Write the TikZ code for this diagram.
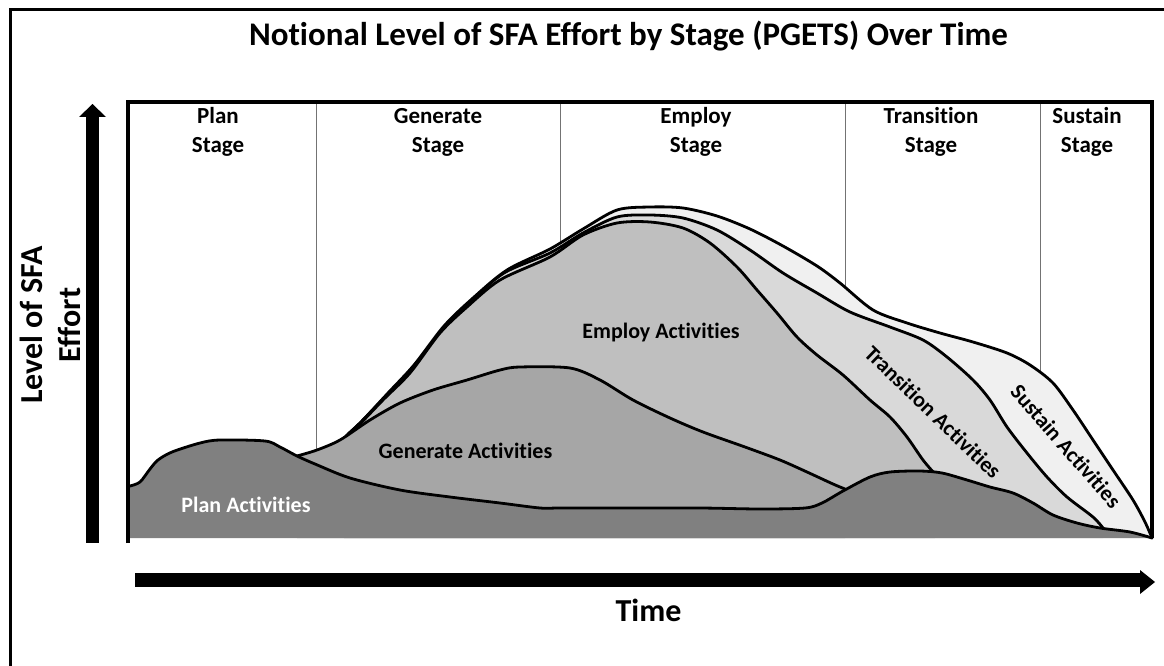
\documentclass[tikz,border=0pt]{standalone}
\usepackage{fontspec}
\setmainfont[Ligatures={NoCommon}]{Carlito}
\definecolor{plancol}{gray}{0.50}
\definecolor{gencol}{gray}{0.65}
\definecolor{empcol}{gray}{0.75}
\definecolor{trancol}{gray}{0.85}
\definecolor{suscol}{gray}{0.94}
\begin{document}
\begin{tikzpicture}[x=1pt,y=-1pt,
  curve/.style={draw=black, line width=2.8pt, line join=round, line cap=round},
  actlbl/.style={font=\bfseries\fontsize{22}{26}\selectfont, inner sep=0pt},
  stagelbl/.style={font=\bfseries\fontsize{23}{28}\selectfont, inner sep=0pt, anchor=base},
  axlbl/.style={font=\bfseries\fontsize{32}{38}\selectfont, inner sep=0pt, anchor=base},
  divider/.style={draw=black!55, line width=1pt},
  boxline/.style={draw=black, line width=3.5pt, line join=miter},
]
\useasboundingbox (0,0) rectangle (1164,666);
\fill[white] (0,0) rectangle (1164,666);
\clip (0,0) rectangle (1164,666);

% outer frame
\draw[line width=3pt] (1180,9.5) -- (10,9.5) -- (10,690);

% stage dividers
\foreach \x in {316,560,845,1040} \draw[divider] (\x,102) -- (\x,530);

\def\curveSus{plot[smooth,tension=0.5] coordinates {(348,434) (362,421) (388,393) (414,365) (444,326) (473,298) (507,270) (550,249) (583,229) (617,210) (650,207) (683,208) (717,216) (750,229) (783,246) (817,266) (840,283) (873,310) (907,323) (940,333) (973,342) (1007,353) (1030,365) (1053,383) (1073,410) (1093,440) (1113,470) (1133,500) (1145,522) (1152,538)}}
\def\curveTra{plot[smooth,tension=0.5] coordinates {(346,436) (360,423) (386,396) (412,369) (442,330) (470,302) (504,273) (550,253) (583,233) (617,217) (650,215) (683,218) (717,230) (750,250) (783,273) (817,293) (850,312) (890,327) (923,340) (947,357) (973,380) (990,400) (1007,427) (1027,453) (1047,477) (1067,497) (1093,517) (1103,528)}}
\def\curveEmp{plot[smooth,tension=0.5] coordinates {(344,438) (357,427) (383,400) (410,373) (440,333) (467,307) (500,280) (550,257) (583,235) (617,223) (650,222) (683,228) (710,243) (737,267) (757,290) (777,313) (797,337) (817,355) (843,375) (870,400) (890,417) (907,437) (923,460) (935,474)}}
\def\curveGen{plot[smooth,tension=0.5] coordinates {(297,456) (317,450) (340,440) (370,420) (400,403) (433,390) (467,380) (500,370) (520,367) (570,368) (600,380) (633,400) (670,418) (703,432) (745,447) (780,460) (807,472) (833,484) (845,489)}}
\def\curvePlan{plot[smooth,tension=0.5] coordinates {(130,486) (140,482) (150,469) (158,460) (172,452) (200,443) (220,440) (265,441) (280,447) (297,456) (315,464) (350,478) (400,490) (450,497) (500,503) (540,508) (560,508) (620,508) (700,508) (760,509) (805,508) (822,503) (843,491) (870,477) (890,472) (920,471) (942,473) (967,480) (990,487) (1013,493) (1033,503) (1053,515) (1077,523) (1100,528) (1130,532) (1152,538)}}

% sustain
\fill[suscol] \curveSus -- (1152,538) -- (344,538) -- cycle;
\draw[curve] \curveSus;
% transition
\fill[trancol] \curveTra -- (1103,538) -- (344,538) -- cycle;
\draw[curve] \curveTra;
% employ
\fill[empcol] \curveEmp -- (935,538) -- (344,538) -- cycle;
\draw[curve] \curveEmp;
% generate
\fill[gencol] \curveGen -- (845,538) -- (297,538) -- cycle;
\draw[curve] \curveGen;
% plan / base
\fill[plancol] \curvePlan -- (1152,538) -- (130,538) -- cycle;
\draw[curve] \curvePlan;

% inner box
\draw[boxline] (128,543) -- (128,102) -- (1152,102) -- (1152,538);

% axis arrows
\fill[black] (86,543) rectangle (99,116);
\fill[black] (79,117) -- (106,117) -- (92.5,104) -- cycle;
\fill[black] (135,573) rectangle (1141,587);
\fill[black] (1140,570) -- (1155,582) -- (1140,594) -- cycle;

% title
\node[axlbl, font=\bfseries\fontsize{33}{40}\selectfont] (title) at (628.5,46) {Notional Level of SFA Effort by Stage (PGETS) Over Time};

% stage labels
\node[stagelbl] (plan1) at (218,124) {Plan};
\node[stagelbl] (plan2) at (218,153) {Stage};
\node[stagelbl] (gen1) at (438,124) {Generate};
\node[stagelbl] (gen2) at (438,153) {Stage};
\node[stagelbl] (emp1) at (696,124) {Employ};
\node[stagelbl] (emp2) at (696,153) {Stage};
\node[stagelbl] (tra1) at (931,124) {Transition};
\node[stagelbl] (tra2) at (931,153) {Stage};
\node[stagelbl] (sus1) at (1087,124) {Sustain};
\node[stagelbl] (sus2) at (1087,153) {Stage};

% axis labels
\node[axlbl, rotate=90] (ylab1) at (42,325) {Level of SFA};
\node[axlbl, rotate=90] (ylab2) at (80,325) {Effort};
\node[axlbl] (time) at (648.5,621) {Time};

% activity labels
\node[actlbl, anchor=base] (empact) at (661,338) {Employ Activities};
\node[actlbl, anchor=base] (genact) at (465.5,458) {Generate Activities};
\node[actlbl, anchor=base, text=white] (planact) at (246,512) {Plan Activities};
\node[actlbl, rotate=-44] (traact) at (933,412) {Transition Activities};
\node[actlbl, rotate=-49] (susact) at (1066,446) {Sustain Activities};
\end{tikzpicture}
\end{document}
